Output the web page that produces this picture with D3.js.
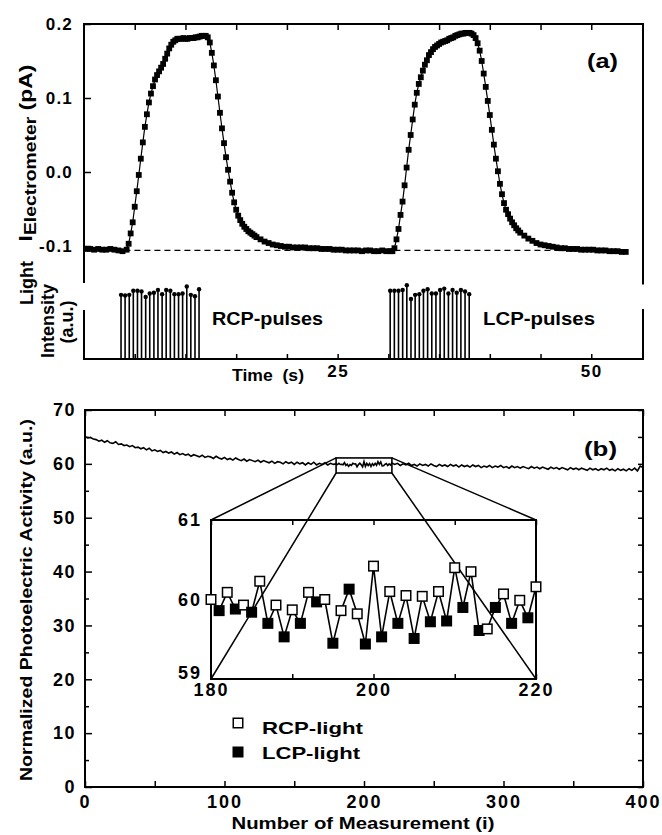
<!DOCTYPE html>
<html><head><meta charset="utf-8">
<script src="https://cdn.jsdelivr.net/npm/d3@7"></script>
<style>
body{margin:0;background:#fff}
svg{display:block}
text{font-family:'Liberation Sans',Arial,Helvetica,sans-serif;font-weight:bold;fill:#000}
</style>
</head><body>
<svg id="c" width="662" height="835"></svg>
<script>
// ---------------- DATA ----------------
// Panel (a): electrometer current vs time
const timeA = [
 0.2,0.6,1.0,1.4,1.8,2.2,2.6,3.0,3.4,3.8,
 4.2,4.4,4.6,4.8,5.0,5.2,5.4,5.6,5.8,6.0,6.2,6.4,6.6,6.8,7.0,7.2,7.4,7.6,7.8,8.0,
 8.2,8.4,8.6,8.8,9.0,9.2,9.4,9.6,9.8,10.0,10.2,10.4,10.6,10.8,11.0,11.2,11.4,11.6,11.8,12.0,
 12.2,12.4,12.6,12.8,13.0,13.2,13.4,13.6,13.8,14.0,14.2,14.4,14.6,14.8,15.0,15.2,15.4,15.6,15.8,16.0,
 16.2,16.4,16.6,16.8,
 17.0,17.4,17.8,18.2,18.6,19.0,19.4,19.8,20.2,20.6,21.0,21.4,21.8,22.2,22.6,23.0,23.4,23.8,24.2,24.6,
 25.0,25.4,25.8,26.2,26.6,27.0,27.4,27.8,28.2,28.6,29.0,29.4,29.8,30.2,
 30.4,30.6,30.8,31.0,31.2,31.4,31.6,31.8,32.0,32.2,32.4,32.6,32.8,33.0,33.2,33.4,33.6,33.8,34.0,34.2,
 34.4,34.6,34.8,35.0,35.2,35.4,35.6,35.8,36.0,36.2,36.4,36.6,36.8,37.0,37.2,37.4,37.6,37.8,38.0,38.2,
 38.4,38.6,38.8,39.0,39.2,39.4,39.6,39.8,40.0,40.2,40.4,40.6,40.8,41.0,41.2,41.4,41.6,41.8,42.0,42.2,
 42.4,42.6,42.8,
 43.0,43.4,43.8,44.2,44.6,45.0,45.4,45.8,46.2,46.6,47.0,47.4,47.8,48.2,48.6,49.0,49.4,49.8,50.2,50.6,
 51.0,51.4,51.8,52.2,52.6,53.0,53.4
];
const currentA = [
 -0.104,-0.104,-0.105,-0.104,-0.105,-0.105,-0.104,-0.105,-0.106,-0.107,
 -0.105,-0.097,-0.083,-0.068,-0.047,-0.026,-0.004,0.018,0.040,0.061,0.078,0.094,0.106,0.116,0.125,0.131,0.136,0.141,0.146,0.153,
 0.160,0.167,0.172,0.176,0.178,0.180,0.180,0.180,0.181,0.180,0.180,0.181,0.181,0.181,0.182,0.182,0.183,0.184,0.184,0.184,
 0.182,0.175,0.161,0.144,0.124,0.102,0.080,0.059,0.039,0.020,0.003,-0.013,-0.028,-0.041,-0.051,-0.059,-0.065,-0.070,-0.074,-0.077,
 -0.080,-0.082,-0.084,-0.086,
 -0.088,-0.091,-0.094,-0.096,-0.098,-0.099,-0.100,-0.101,-0.101,-0.102,-0.102,-0.102,-0.102,-0.103,-0.103,-0.103,-0.104,-0.104,-0.104,-0.105,
 -0.105,-0.105,-0.106,-0.106,-0.106,-0.106,-0.107,-0.106,-0.106,-0.107,-0.107,-0.106,-0.107,-0.107,
 -0.107,-0.103,-0.091,-0.077,-0.058,-0.040,-0.018,0.006,0.030,0.050,0.071,0.091,0.107,0.119,0.128,0.137,0.145,0.151,0.158,0.162,
 0.166,0.169,0.171,0.173,0.175,0.176,0.177,0.178,0.180,0.181,0.182,0.184,0.185,0.186,0.187,0.187,0.188,0.188,0.188,0.187,
 0.185,0.181,0.174,0.164,0.150,0.133,0.115,0.096,0.077,0.057,0.037,0.018,0.001,-0.016,-0.030,-0.042,-0.051,-0.057,-0.063,-0.068,
 -0.072,-0.076,-0.079,
 -0.082,-0.086,-0.090,-0.093,-0.096,-0.098,-0.099,-0.100,-0.101,-0.102,-0.103,-0.103,-0.104,-0.104,-0.104,-0.105,-0.105,-0.105,-0.105,-0.106,
 -0.106,-0.106,-0.107,-0.107,-0.107,-0.108,-0.108
];
const baselineCurrent = -0.106;
const baselineSpan = [3.0, 52.0];
const yTicksA = [-0.1, 0.0, 0.1, 0.2];
const timeTicks = [5,10,15,20,25,30,35,40,45,50];
const timeLabels = [25, 50];

// Light pulses
const rcpPulseTimes = [3.65,4.05,4.46,4.86,5.27,5.67,6.08,6.48,6.89,7.29,7.70,8.10,8.51,8.91,9.32,9.72,10.13,10.53,10.94,11.34];
const rcpPulseHeights = [0.93,0.92,0.93,0.99,0.99,0.98,0.90,0.95,0.96,1.00,0.94,1.00,0.99,0.94,0.94,0.95,1.05,0.93,0.91,1.01];
const lcpPulseTimes = [30.18,30.59,31.00,31.41,31.82,32.23,32.64,33.05,33.46,33.87,34.28,34.69,35.10,35.51,35.92,36.33,36.74,37.15,37.56,37.97];
const lcpPulseHeights = [0.99,0.99,0.99,1.00,1.07,0.87,0.93,0.94,0.99,1.01,0.95,0.95,1.00,1.02,0.95,1.00,0.96,1.00,0.98,0.94];

// Panel (b): normalized photoelectric activity
const activityEarly = [ // measurements 0..178 (every 2nd)
 65.1,64.8,64.9,64.6,64.5,64.2,64.4,64.0,64.3,63.9,
 63.8,64.1,63.6,63.7,63.4,63.5,63.2,63.4,63.0,63.1,
 62.8,63.0,62.6,62.9,62.4,62.6,62.3,62.5,62.1,62.3,
 62.0,62.2,61.8,62.1,61.7,61.9,61.6,61.8,61.4,61.7,
 61.5,61.3,61.6,61.2,61.4,61.3,61.0,61.4,61.1,60.9,
 61.2,60.8,61.0,60.7,61.1,60.8,60.6,60.9,60.5,60.8,
 60.6,60.4,60.7,60.3,60.6,60.4,60.2,60.5,60.1,60.4,
 60.3,60.0,60.4,60.1,60.3,59.9,60.3,60.0,60.2,59.8,
 60.2,59.9,60.3,59.8,60.1,59.9,60.2,59.8,60.1,59.9
];
const rcpValues = [60.00,60.09,59.93,60.23,59.93,59.87,60.09,60.00,59.86,59.82,60.42,60.10,60.05,60.04,60.10,60.40,60.35,59.63,60.07,59.99,60.16]; // 180,182..220
const lcpValues = [59.86,59.88,59.84,59.70,59.53,59.70,59.97,59.45,60.13,59.44,59.53,59.70,59.51,59.72,59.73,59.90,59.61,59.90,59.70,59.77]; // 181,183..219
const activityLate = [ // measurements 222..400 (every 2nd)
 59.9,60.1,59.7,60.0,59.8,60.1,59.7,59.9,59.6,60.0,
 59.7,59.9,59.6,60.0,59.7,59.5,59.9,59.6,59.8,59.5,
 59.9,59.6,59.8,59.4,59.8,59.5,59.7,59.4,59.8,59.5,
 59.7,59.3,59.6,59.4,59.7,59.3,59.6,59.4,59.7,59.3,
 59.5,59.2,59.6,59.3,59.5,59.2,59.5,59.3,59.1,59.5,
 59.2,59.4,59.1,59.4,59.2,59.0,59.4,59.1,59.3,59.0,
 59.3,59.1,58.9,59.3,59.0,59.2,58.9,59.2,59.0,58.8,
 59.2,58.9,59.1,58.8,59.1,58.9,59.2,58.8,59.0,58.7,
 59.1,58.8,59.0,58.7,59.1,58.8,59.2,58.7,59.6,59.3
];
const zoomX = [180, 220];
const zoomY = [58.3, 61.1];
const yTicksB = [0,10,20,30,40,50,60,70];
const yMinorB = [5,15,25,35,45,55,65];
const xTicksB = [0,50,100,150,200,250,300,350,400];
const xLabelsB = [0,100,200,300,400];
const insetXTicks = [180,190,200,210,220];
const insetXLabels = [180,200,220];
const insetYLabels = [59,60,61];

// ---------------- DRAW ----------------
const FONT = "'Liberation Sans',Arial,Helvetica,sans-serif";
const svg = d3.select("#c");
svg.append("rect").attr("width",662).attr("height",835).attr("fill","#fff");

function styleAxis(g, fs, ls) {
  g.select(".domain").remove();
  g.attr("font-family", FONT).attr("font-size", fs).attr("font-weight","bold");
  g.selectAll(".tick line").attr("stroke","#000").attr("stroke-width",1.5);
  g.selectAll(".tick text").attr("fill","#000").style("letter-spacing", ls + "px");
}

// ----- Panel (a) -----
const xA = d3.scaleLinear().domain([0, 55.1]).range([84, 643]);
const yA = d3.scaleLinear().domain([-0.1, 0.2]).range([246, 24]);
const yL = d3.scaleLinear().domain([0, 1]).range([359, 290]);

svg.append("path")
  .attr("d", `M${xA(0)},${yA(-0.15)}V${yA(0.2)}H${xA(55.1)}V${yA(-0.152)}`)
  .attr("fill","none").attr("stroke","#000").attr("stroke-width",2);

svg.append("g").attr("transform",`translate(0,${yA(0.2)})`)
  .call(d3.axisTop(xA).tickValues(timeTicks).tickSize(-6).tickFormat(""))
  .call(g => styleAxis(g, 17, 1));

svg.append("g").attr("transform",`translate(${xA(0)},0)`)
  .call(d3.axisLeft(yA).tickValues(yTicksA).tickSize(-7).tickPadding(11).tickFormat(d => d.toFixed(1)))
  .call(g => styleAxis(g, 17, 1.2));

// dashed baseline
svg.append("line")
  .attr("x1", xA(baselineSpan[0])).attr("x2", xA(baselineSpan[1]))
  .attr("y1", yA(baselineCurrent)).attr("y2", yA(baselineCurrent))
  .attr("stroke","#000").attr("stroke-width",1.3).attr("stroke-dasharray","6,4");

const ptsA = timeA.map((t,i) => [t, currentA[i]]);
svg.append("path")
  .attr("d", d3.line().x(d => xA(d[0])).y(d => yA(d[1]))(ptsA))
  .attr("fill","none").attr("stroke","#000").attr("stroke-width",1.2);
svg.append("g").selectAll("rect").data(ptsA).join("rect")
  .attr("x", d => xA(d[0]) - 2.9).attr("y", d => yA(d[1]) - 2.9)
  .attr("width",5.8).attr("height",5.8).attr("fill","#000");

svg.append("text").attr("x",587).attr("y",68).attr("font-size",21)
  .attr("textLength",31).attr("lengthAdjust","spacingAndGlyphs").text("(a)");

// y label  I_Electrometer (pA)
const yLabA = svg.append("text").attr("transform","translate(32,153) rotate(-90)")
  .attr("text-anchor","middle").attr("font-size",19)
  .attr("textLength",177).attr("lengthAdjust","spacingAndGlyphs");
yLabA.append("tspan").text("I");
yLabA.append("tspan").attr("font-size",16).attr("dy",4).text("Electrometer");
yLabA.append("tspan").attr("dy",-4).text(" (pA)");

// ----- Light intensity panel -----
svg.append("path")
  .attr("d", `M${xA(0)},${yL(0.71)}V${yL(0)}H${xA(55.1)}V${yL(0.725)}`)
  .attr("fill","none").attr("stroke","#000").attr("stroke-width",2);

svg.append("g").attr("transform",`translate(0,${yL(0)})`)
  .call(d3.axisBottom(xA).tickValues(timeTicks).tickSize(-5).tickPadding(6)
     .tickFormat(d => timeLabels.includes(d) ? d : ""))
  .call(g => styleAxis(g, 17, 1.5));

function drawPulses(times, heights) {
  const g = svg.append("g");
  g.selectAll("line").data(times).join("line")
    .attr("x1", d => xA(d)).attr("x2", d => xA(d))
    .attr("y1", yL(0)).attr("y2", (d,i) => yL(heights[i]))
    .attr("stroke","#000").attr("stroke-width",1.6);
  g.selectAll("circle").data(times).join("circle")
    .attr("cx", d => xA(d)).attr("cy", (d,i) => yL(heights[i]))
    .attr("r",2.2).attr("fill","#000");
}
drawPulses(rcpPulseTimes, rcpPulseHeights);
drawPulses(lcpPulseTimes, lcpPulseHeights);

svg.append("text").attr("x",212).attr("y",325).attr("font-size",18)
  .attr("textLength",111).attr("lengthAdjust","spacingAndGlyphs").text("RCP-pulses");
svg.append("text").attr("x",483).attr("y",325).attr("font-size",18)
  .attr("textLength",112).attr("lengthAdjust","spacingAndGlyphs").text("LCP-pulses");
svg.append("text").attr("x",232).attr("y",381).attr("font-size",17)
  .attr("textLength",72).attr("lengthAdjust","spacingAndGlyphs").style("white-space","pre").text("Time  (s)");

svg.append("text").attr("transform","translate(33,283) rotate(-90)").attr("text-anchor","middle").attr("font-size",18).text("Light");
svg.append("text").attr("transform","translate(54,321) rotate(-90)").attr("text-anchor","middle").attr("font-size",18).text("Intensity");
svg.append("text").attr("transform","translate(73,322) rotate(-90)").attr("text-anchor","middle").attr("font-size",18).text("(a.u.)");

// ----- Panel (b) -----
const xB = d3.scaleLinear().domain([0, 400]).range([85, 643]);
const yB = d3.scaleLinear().domain([0, 70]).range([787, 410]);

svg.append("rect").attr("x", xB(0)).attr("y", yB(70))
  .attr("width", xB(400) - xB(0)).attr("height", yB(0) - yB(70))
  .attr("fill","none").attr("stroke","#000").attr("stroke-width",2);

svg.append("g").attr("transform",`translate(${xB(0)},0)`)
  .call(d3.axisLeft(yB).tickValues(yTicksB).tickSize(-7).tickPadding(9).tickFormat(d => d))
  .call(g => styleAxis(g, 18, 1.5));
svg.append("g").attr("transform",`translate(${xB(0)},0)`)
  .call(d3.axisLeft(yB).tickValues(yMinorB).tickSize(-4).tickFormat(""))
  .call(g => styleAxis(g, 18, 0));
svg.append("g").attr("transform",`translate(${xB(400)},0)`)
  .call(d3.axisRight(yB).tickValues(yTicksB.concat(yMinorB)).tickSize(-5).tickFormat(""))
  .call(g => styleAxis(g, 18, 0));
svg.append("g").attr("transform",`translate(0,${yB(70)})`)
  .call(d3.axisTop(xB).tickValues(xTicksB).tickSize(-6).tickFormat(""))
  .call(g => styleAxis(g, 18, 0));
svg.append("g").attr("transform",`translate(0,${yB(0)})`)
  .call(d3.axisBottom(xB).tickValues(xTicksB).tickSize(-6).tickPadding(8)
     .tickFormat(d => xLabelsB.includes(d) ? d : ""))
  .call(g => styleAxis(g, 18, 2));

// main trace
const earlyIdx = d3.range(0, 180, 2);
const lateIdx = d3.range(222, 401, 2);
const rcpIdx = d3.range(180, 221, 2);
const lcpIdx = d3.range(181, 220, 2);
const insetPts = rcpIdx.map((x,i) => ({x, y: rcpValues[i], t:"R"}))
  .concat(lcpIdx.map((x,i) => ({x, y: lcpValues[i], t:"L"})))
  .sort((a,b) => a.x - b.x);
const mainPts = earlyIdx.map((x,i) => [x, activityEarly[i]])
  .concat(insetPts.map(d => [d.x, d.y]))
  .concat(lateIdx.map((x,i) => [x, activityLate[i]]));
svg.append("path")
  .attr("d", d3.line().x(d => xB(d[0])).y(d => yB(d[1]))(mainPts))
  .attr("fill","none").attr("stroke","#000").attr("stroke-width",1.6);

// zoom box and connectors
const xI = d3.scaleLinear().domain([180, 220]).range([211, 536]);
const yI = d3.scaleLinear().domain([59, 61]).range([679, 520]);
svg.append("rect").attr("x", xB(zoomX[0])).attr("y", yB(zoomY[1]))
  .attr("width", xB(zoomX[1]) - xB(zoomX[0])).attr("height", yB(zoomY[0]) - yB(zoomY[1]))
  .attr("fill","none").attr("stroke","#000").attr("stroke-width",1.6);
const connectors = [
  [[zoomX[0], zoomY[1]], [180, 61]],
  [[zoomX[1], zoomY[1]], [220, 61]],
  [[zoomX[0], zoomY[0]], [180, 59]],
  [[zoomX[1], zoomY[0]], [220, 59]]
];
svg.append("g").selectAll("line").data(connectors).join("line")
  .attr("x1", d => xB(d[0][0])).attr("y1", d => yB(d[0][1]))
  .attr("x2", d => xI(d[1][0])).attr("y2", d => yI(d[1][1]))
  .attr("stroke","#000").attr("stroke-width",1.5);

// inset
svg.append("rect").attr("x", xI(180)).attr("y", yI(61))
  .attr("width", xI(220) - xI(180)).attr("height", yI(59) - yI(61))
  .attr("fill","none").attr("stroke","#000").attr("stroke-width",2);
svg.append("g").attr("transform",`translate(0,${yI(61)})`)
  .call(d3.axisTop(xI).tickValues(insetXTicks).tickSize(-5).tickFormat(""))
  .call(g => styleAxis(g, 18, 0));
svg.append("g").attr("transform",`translate(0,${yI(59)})`)
  .call(d3.axisBottom(xI).tickValues(insetXTicks).tickSize(-5).tickPadding(4)
     .tickFormat(d => insetXLabels.includes(d) ? d : ""))
  .call(g => styleAxis(g, 18, 2));
svg.append("g").attr("transform",`translate(${xI(180)},0)`)
  .call(d3.axisLeft(yI).tickValues(insetYLabels).tickSize(0).tickPadding(9).tickFormat(d => d))
  .call(g => styleAxis(g, 18, 2))
  .call(g => g.selectAll(".tick text").attr("dy", d => d === 59 ? "-0.05em" : "0.32em"));

svg.append("path")
  .attr("d", d3.line().x(d => xI(d.x)).y(d => yI(d.y))(insetPts))
  .attr("fill","none").attr("stroke","#000").attr("stroke-width",1.6);
const mk = 9.5;
svg.append("g").selectAll("rect").data(insetPts).join("rect")
  .attr("x", d => xI(d.x) - mk/2).attr("y", d => yI(d.y) - mk/2)
  .attr("width", mk).attr("height", mk)
  .attr("fill", d => d.t === "R" ? "#fff" : "#000")
  .attr("stroke","#000").attr("stroke-width",1.5);

// legend
svg.append("rect").attr("x",238-4.75).attr("y",723-4.75).attr("width",mk).attr("height",mk)
  .attr("fill","#fff").attr("stroke","#000").attr("stroke-width",1.5);
svg.append("rect").attr("x",238-4.75).attr("y",752-4.75).attr("width",mk).attr("height",mk)
  .attr("fill","#000").attr("stroke","#000").attr("stroke-width",1.5);
svg.append("text").attr("x",262).attr("y",734).attr("font-size",17)
  .attr("textLength",101).attr("lengthAdjust","spacingAndGlyphs").text("RCP-light");
svg.append("text").attr("x",262).attr("y",759).attr("font-size",17)
  .attr("textLength",98).attr("lengthAdjust","spacingAndGlyphs").text("LCP-light");

svg.append("text").attr("x",584).attr("y",456).attr("font-size",21)
  .attr("textLength",33).attr("lengthAdjust","spacingAndGlyphs").text("(b)");

svg.append("text").attr("x",363).attr("y",829).attr("text-anchor","middle").attr("font-size",17)
  .attr("textLength",263).attr("lengthAdjust","spacingAndGlyphs").text("Number of Measurement (i)");
svg.append("text").attr("transform","translate(32,600) rotate(-90)").attr("text-anchor","middle").attr("font-size",17)
  .attr("textLength",362).attr("lengthAdjust","spacingAndGlyphs").text("Normalized Photoelectric Activity (a.u.)");
</script>
</body></html>
